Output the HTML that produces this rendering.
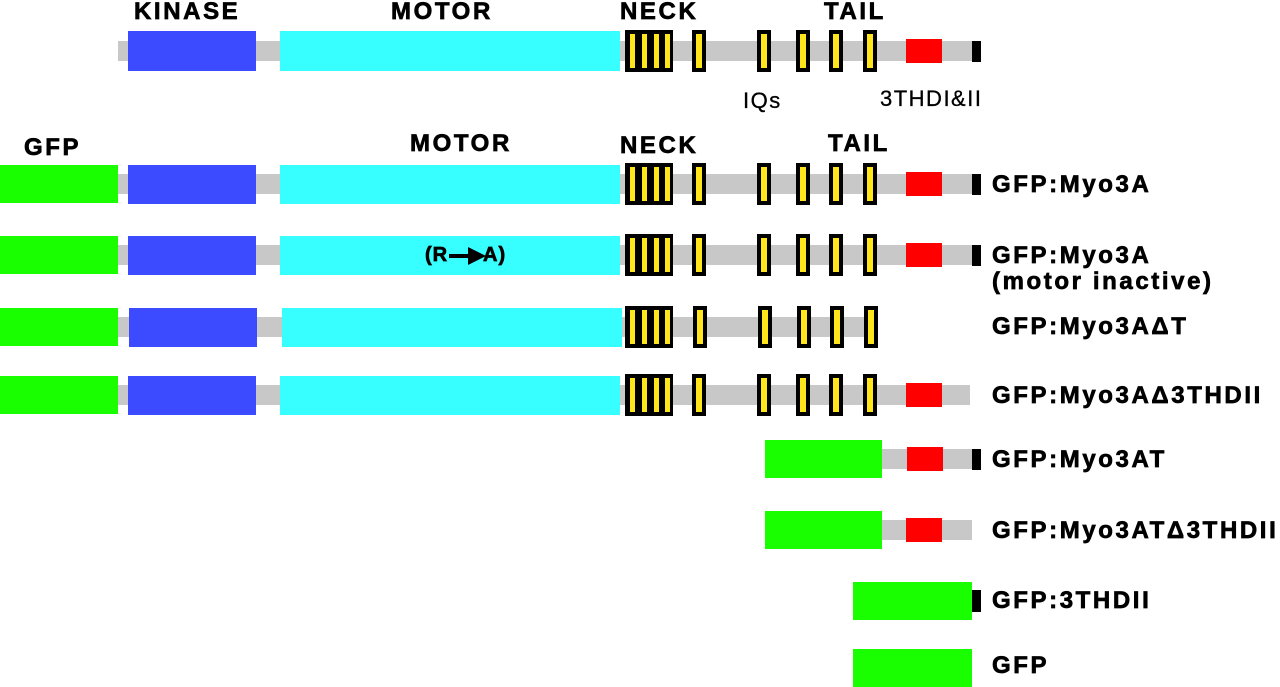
<!DOCTYPE html>
<html><head><meta charset="utf-8"><style>
body{margin:0;width:1280px;height:687px;background:#fff;position:relative;overflow:hidden;font-family:"Liberation Sans",Arial,sans-serif}
.r{position:absolute;left:0;width:1280px;height:0}
.r div{position:absolute}
.bar{background:#c8c8c8;top:-10px;height:20px}
.g{background:#1aff00;top:-19px;height:38px}
.k{background:#3c4bff;left:128px;width:128px;top:-19px;height:39px}
.m{background:#38ffff;left:280px;width:340px;top:-19px;height:39px}
.neck{left:625px;width:48px;top:-21px;height:42px;background:#000}
.neck i{position:absolute;top:4px;height:34px;width:5px;background:#ffe61a}
.iq{width:14px;top:-21px;height:42px;background:#000}
.iq i{position:absolute;left:4px;top:4px;width:6px;height:34px;background:#ffe61a}
.red{background:#ff0000;left:906px;width:36px;top:-12px;height:24px}
.end{background:#000;left:972px;width:9px;top:-10px;height:21px}
.t{position:absolute;font-weight:bold;font-size:24px;letter-spacing:2.6px;white-space:nowrap;line-height:1;-webkit-text-stroke:0.7px #000}
.n{position:absolute;font-size:22px;letter-spacing:1.5px;white-space:nowrap;line-height:1;-webkit-text-stroke:0.3px #000}
</style></head><body>

<div class="r" style="top:51px">
<div class="bar" style="left:118px;width:854px"></div>
<div class="k" style="top:-20px;height:40px"></div>
<div class="m" style="top:-20px;height:40px"></div>
<div class="neck"><i style="left:5px"></i><i style="left:17px"></i><i style="left:29px"></i><i style="left:40px"></i></div>
<div class="iq" style="left:692px"><i></i></div>
<div class="iq" style="left:757px"><i></i></div>
<div class="iq" style="left:796px"><i></i></div>
<div class="iq" style="left:829px"><i></i></div>
<div class="iq" style="left:863px"><i></i></div>
<div class="red"></div>
<div class="end"></div>
</div>
<div class="t" style="left:134px;top:0px">KINASE</div>
<div class="t" style="left:391px;top:0px">MOTOR</div>
<div class="t" style="left:620px;top:0px">NECK</div>
<div class="t" style="left:824px;top:0px">TAIL</div>
<div class="n" style="left:743px;top:90px">IQs</div>
<div class="n" style="left:880px;top:88px">3THDI&amp;II</div>

<div class="t" style="left:24px;top:136px">GFP</div>
<div class="t" style="left:410px;top:132px">MOTOR</div>
<div class="t" style="left:620px;top:134px">NECK</div>
<div class="t" style="left:828px;top:132px">TAIL</div>

<div class="r" style="top:184px">
<div class="bar" style="left:118px;width:854px"></div>
<div class="g" style="left:0;width:118px"></div>
<div class="k"></div><div class="m"></div>
<div class="neck"><i style="left:5px"></i><i style="left:17px"></i><i style="left:29px"></i><i style="left:40px"></i></div>
<div class="iq" style="left:692px"><i></i></div>
<div class="iq" style="left:757px"><i></i></div>
<div class="iq" style="left:796px"><i></i></div>
<div class="iq" style="left:829px"><i></i></div>
<div class="iq" style="left:863px"><i></i></div>
<div class="red"></div><div class="end"></div>
</div>
<div class="t" style="left:992px;top:173px">GFP:Myo3A</div>

<div class="r" style="top:255px">
<div class="bar" style="left:118px;width:854px"></div>
<div class="g" style="left:0;width:118px"></div>
<div class="k"></div><div class="m"></div>
<div class="neck"><i style="left:5px"></i><i style="left:17px"></i><i style="left:29px"></i><i style="left:40px"></i></div>
<div class="iq" style="left:692px"><i></i></div>
<div class="iq" style="left:757px"><i></i></div>
<div class="iq" style="left:796px"><i></i></div>
<div class="iq" style="left:829px"><i></i></div>
<div class="iq" style="left:863px"><i></i></div>
<div class="red"></div><div class="end"></div>
</div>
<div class="t" style="left:425px;top:245px;font-size:20px;letter-spacing:1px">(R</div>
<svg style="position:absolute;left:449px;top:246px" width="40" height="20"><line x1="0" y1="10" x2="22" y2="10" stroke="#000" stroke-width="4"/><polygon points="19,1 37,10 19,19" fill="#000"/></svg>
<div class="t" style="left:483px;top:245px;font-size:20px;letter-spacing:1px">A)</div>
<div class="t" style="left:992px;top:244px">GFP:Myo3A</div>
<div class="t" style="left:992px;top:270px">(motor inactive)</div>

<div class="r" style="top:327px">
<div class="bar" style="left:118px;width:759px"></div>
<div class="g" style="left:0;width:118px"></div>
<div class="k" style="left:129px"></div><div class="m" style="left:282px"></div>
<div class="neck"><i style="left:5px"></i><i style="left:17px"></i><i style="left:29px"></i><i style="left:40px"></i></div>
<div class="iq" style="left:693px"><i></i></div>
<div class="iq" style="left:758px"><i></i></div>
<div class="iq" style="left:797px"><i></i></div>
<div class="iq" style="left:830px"><i></i></div>
<div class="iq" style="left:864px"><i></i></div>
</div>
<div class="t" style="left:992px;top:315px">GFP:Myo3AΔT</div>

<div class="r" style="top:395px">
<div class="bar" style="left:118px;width:852px"></div>
<div class="g" style="left:0;width:118px"></div>
<div class="k"></div><div class="m"></div>
<div class="neck"><i style="left:5px"></i><i style="left:17px"></i><i style="left:29px"></i><i style="left:40px"></i></div>
<div class="iq" style="left:692px"><i></i></div>
<div class="iq" style="left:757px"><i></i></div>
<div class="iq" style="left:796px"><i></i></div>
<div class="iq" style="left:829px"><i></i></div>
<div class="iq" style="left:863px"><i></i></div>
<div class="red"></div>
</div>
<div class="t" style="left:992px;top:384px">GFP:Myo3AΔ3THDII</div>

<div class="r" style="top:459px">
<div class="bar" style="left:882px;width:90px"></div>
<div class="g" style="left:765px;width:117px"></div>
<div class="red" style="left:907px"></div><div class="end"></div>
</div>
<div class="t" style="left:992px;top:448px">GFP:Myo3AT</div>

<div class="r" style="top:530px">
<div class="bar" style="left:882px;width:90px"></div>
<div class="g" style="left:765px;width:117px"></div>
<div class="red" style="left:906px"></div>
</div>
<div class="t" style="left:992px;top:519px">GFP:Myo3ATΔ3THDII</div>

<div class="r" style="top:601px">
<div class="g" style="left:853px;width:119px"></div>
<div class="end" style="top:-11px;height:22px"></div>
</div>
<div class="t" style="left:992px;top:589px">GFP:3THDII</div>

<div class="r" style="top:668px">
<div class="g" style="left:853px;width:119px"></div>
</div>
<div class="t" style="left:992px;top:654px">GFP</div>
</body></html>
